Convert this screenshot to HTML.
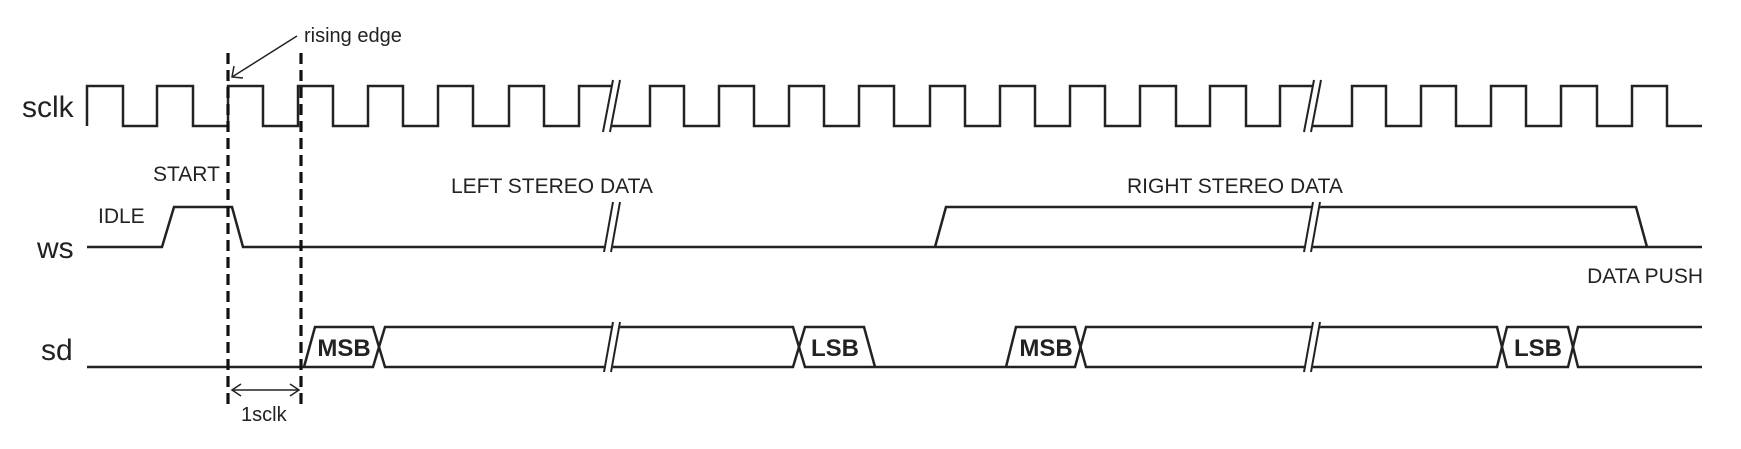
<!DOCTYPE html>
<html><head><meta charset="utf-8"><style>
html,body{margin:0;padding:0;background:#fff;}
svg{display:block;}
text{font-family:"Liberation Sans",Arial,sans-serif;fill:#222;}
</style></head><body>
<svg width="1741" height="449" viewBox="0 0 1741 449" xmlns="http://www.w3.org/2000/svg">
<g fill="none" stroke="#222" stroke-width="2.5" stroke-linejoin="miter">
<path d="M87,126 V86 H123 V126 H157 V86 H193 V126 H228 V86 H263 V126 H298 V86 H333 V126 H368 V86 H403 V126 H438 V86 H473 V126 H509 V86 H544 V126 H579 V86 H612"/>
<path d="M612,126 H650 V86 H684 V126 H719 V86 H754 V126 H789 V86 H824 V126 H859 V86 H894 V126 H930 V86 H965 V126 H1000 V86 H1035 V126 H1070 V86 H1105 V126 H1140 V86 H1176 V126 H1210 V86 H1246 V126 H1280 V86 H1312"/>
<path d="M1312,126 H1352 V86 H1386 V126 H1421 V86 H1456 V126 H1491 V86 H1526 V126 H1561 V86 H1597 V126 H1632 V86 H1667 V126 H1702"/>
<path d="M87,247 H162 L174,207 H232 L243,247 H1702"/>
<path d="M935,247 L946,207 H1636 L1647,247"/>
<path d="M87,367 H373 L385,327 H793 L805,367 H1075 L1086,327 H1497 L1507,367 H1568 L1578,327 H1702"/>
<path d="M304,367 L315,327 H373 L385,367 H793 L805,327 H864 L875,367"/>
<path d="M1006,367 L1016,327 H1075 L1086,367 H1497 L1507,327 H1568 L1578,367 H1702"/>
</g>
<g stroke="#222" stroke-width="2">
<polygon points="604,132 614,80 620,80 610,132" fill="#fff" stroke="none"/>
<line x1="603" y1="132" x2="613" y2="80"/><line x1="610" y1="132" x2="620" y2="80"/>
<polygon points="605,252 614,202 621,202 612,252" fill="#fff" stroke="none"/>
<line x1="604" y1="252" x2="613" y2="202"/><line x1="611" y1="252" x2="620" y2="202"/>
<polygon points="605,372 614,322 621,322 612,372" fill="#fff" stroke="none"/>
<line x1="604" y1="372" x2="613" y2="322"/><line x1="611" y1="372" x2="620" y2="322"/>
<polygon points="1305,132 1315,80 1321,80 1311,132" fill="#fff" stroke="none"/>
<line x1="1304" y1="132" x2="1314" y2="80"/><line x1="1311" y1="132" x2="1321" y2="80"/>
<polygon points="1305,252 1314,202 1321,202 1312,252" fill="#fff" stroke="none"/>
<line x1="1304" y1="252" x2="1313" y2="202"/><line x1="1311" y1="252" x2="1320" y2="202"/>
<polygon points="1305,372 1314,322 1321,322 1312,372" fill="#fff" stroke="none"/>
<line x1="1304" y1="372" x2="1313" y2="322"/><line x1="1311" y1="372" x2="1320" y2="322"/>
</g>
<g stroke="#111" stroke-width="3.2" stroke-dasharray="11,6">
<line x1="228" y1="53" x2="228" y2="408"/>
<line x1="301" y1="53" x2="301" y2="408"/>
</g>
<g stroke="#222" stroke-width="1.5" fill="none">
<line x1="297" y1="36" x2="232" y2="77"/>
<path d="M234,66 L232,77 L243,78"/>
<line x1="232" y1="390" x2="299" y2="390"/>
<path d="M241,384 L232,390 L241,396"/>
<path d="M290,384 L299,390 L290,396"/>
</g>
<text x="22" y="117" font-size="30">sclk</text>
<text x="37" y="258" font-size="30">ws</text>
<text x="41" y="360" font-size="30">sd</text>
<text x="304" y="42" font-size="20">rising edge</text>
<text x="153" y="181" font-size="21">START</text>
<text x="98" y="223" font-size="21">IDLE</text>
<text x="451" y="193" font-size="21">LEFT STEREO DATA</text>
<text x="1127" y="193" font-size="21">RIGHT STEREO DATA</text>
<text x="1703" y="283" font-size="21" text-anchor="end">DATA PUSH</text>
<text x="241" y="421" font-size="20">1sclk</text>
<g font-size="24" font-weight="bold" text-anchor="middle">
<text x="344" y="356">MSB</text>
<text x="835" y="356">LSB</text>
<text x="1046" y="356">MSB</text>
<text x="1538" y="356">LSB</text>
</g>
</svg>
</body></html>
